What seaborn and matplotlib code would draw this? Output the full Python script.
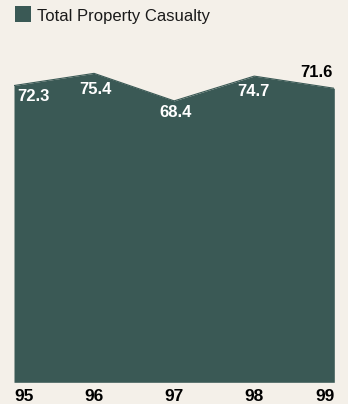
import matplotlib
matplotlib.use("Agg")
import matplotlib.pyplot as plt
from matplotlib.patches import Rectangle
import seaborn as sns
import pandas as pd

# Total property casualty, by year
years = ["95", "96", "97", "98", "99"]
values = [72.3, 75.4, 68.4, 74.7, 71.6]
series_name = "Total Property Casualty"

FILL = "#3a5955"
BG = "#f4f0e9"

sns.set_theme(style="white")
plt.rcParams["font.family"] = ["Liberation Sans", "DejaVu Sans"]

df = pd.DataFrame({"pos": range(len(years)), "year": years, "value": values})

fig = plt.figure(figsize=(3.48, 4.04), dpi=100, facecolor=BG)
W, H = 348, 404
ax = fig.add_axes([14 / W, 1 - 382.3 / H, (334.3 - 14) / W, (382.3 - 60) / H])
ax.set_facecolor(BG)

ylo = -3.2
sns.lineplot(data=df, x="pos", y="value", ax=ax, color=FILL, linewidth=0.8)
ax.fill_between(df["pos"], df["value"], ylo, color=FILL, linewidth=0)

ax.set_xlim(0, len(years) - 1)
ax.set_ylim(ylo, 78.8)
ax.set_xlabel("")
ax.set_ylabel("")
ax.set_yticks([])
ax.set_xticks(df["pos"])
ax.set_xticklabels(years, fontsize=12.5, fontweight="bold", color="black")
ax.tick_params(axis="x", length=0, pad=4.5)
ticks = ax.get_xticklabels()
ticks[0].set_ha("left")
ticks[-1].set_ha("right")
for s in ax.spines.values():
    s.set_visible(False)

# value labels (offsets in pixels from each vertex)
offsets = [(3, -10.7), (1.7, -16.2), (1.2, -11.3), (-1, -15), (-1.3, 15.7)]
aligns = ["left", "center", "center", "center", "right"]
colors = ["white", "white", "white", "white", "black"]
for i, v in enumerate(values):
    ax.annotate(f"{v:.1f}", (i, v), xytext=offsets[i], textcoords="offset pixels",
                ha=aligns[i], va="center", fontsize=12, fontweight="bold",
                color=colors[i], annotation_clip=False)

# legend swatch and label
fig.patches.append(Rectangle((15 / W, 1 - 22 / H), 16 / W, 16 / H,
                             transform=fig.transFigure, facecolor=FILL, edgecolor="none"))
fig.text(37 / W, 1 - 16.5 / H, series_name, ha="left", va="center",
         fontsize=12, color="#1a1a1a")

fig.savefig("out.png", dpi=100, facecolor=BG)
